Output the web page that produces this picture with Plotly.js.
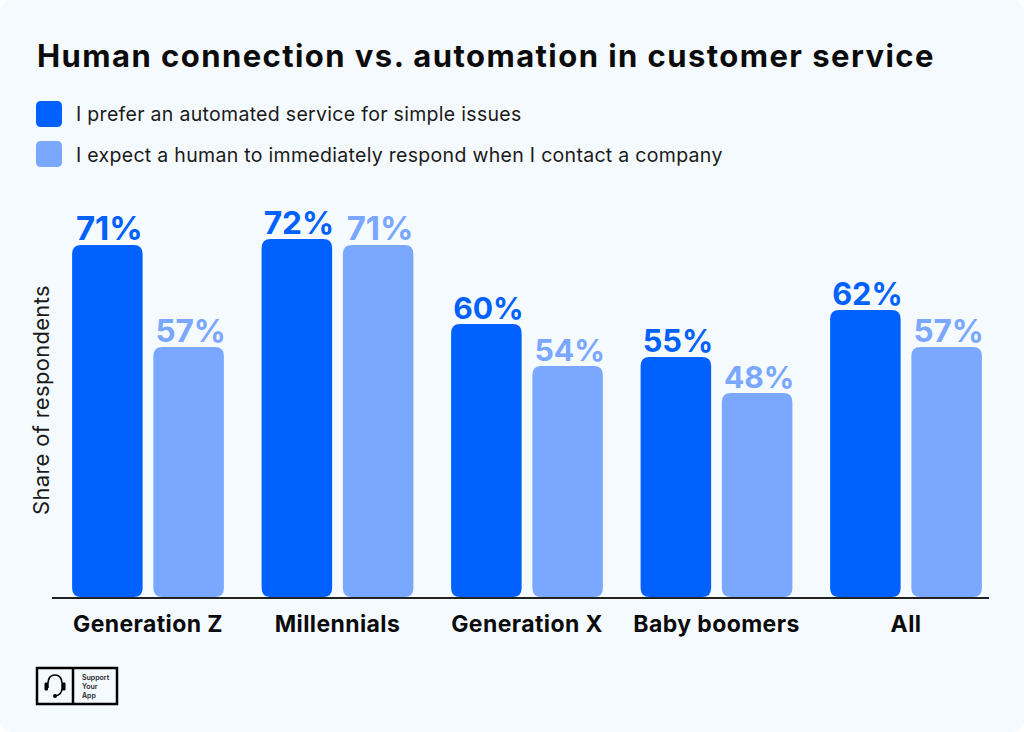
<!DOCTYPE html>
<html><head><meta charset="utf-8">
<script src="https://cdn.plot.ly/plotly-3.0.1.min.js"></script>
<style>html,body{margin:0;padding:0;background:#fff}#c{width:1024px;height:732px;border-radius:12px;overflow:hidden}
.xtick text{letter-spacing:.4px}</style>
</head><body><div id="c"></div>
<script>
const categories = ['Generation Z','Millennials','Generation X','Baby boomers','All'];
const automatedLabels = [71,72,60,55,62];
const humanLabels = [57,71,54,48,57];
// Drawn bar heights (the source's bars are not to scale with their labels)
const automatedHeights = [352,358,273,240,287];
const humanHeights = [250,352,231,204,250];
const seriesNames = ['I prefer an automated service for simple issues','I expect a human to immediately respond when I contact a company'];
const titleText = 'Human connection vs. automation in customer service';
const yTitle = 'Share of respondents';
const logoWords = 'Support<br>Your<br>App';

const W=1024,H=732,L=52,R=35,T=197,B=135;
const PW=W-L-R,PH=H-T-B;
const px=x=>(x-L)/PW, py=y=>1-(y-T)/PH;
const BLUE='#0061ff',LIGHT='#7aa7ff',BG='#f5faff',INK='#0b0b0b';
const FONT='Inter, "Open Sans", sans-serif';
const pct=a=>a.map(v=>v+'%');
function rr(x0,y0,x1,y1,r){
  const X=v=>px(v),Y=v=>py(v);
  return `M${X(x0+r)},${Y(y0)} L${X(x1-r)},${Y(y0)} Q${X(x1)},${Y(y0)} ${X(x1)},${Y(y0+r)} L${X(x1)},${Y(y1-r)} Q${X(x1)},${Y(y1)} ${X(x1-r)},${Y(y1)} L${X(x0+r)},${Y(y1)} Q${X(x0)},${Y(y1)} ${X(x0)},${Y(y1-r)} L${X(x0)},${Y(y0+r)} Q${X(x0)},${Y(y0)} ${X(x0+r)},${Y(y0)} Z`;
}
const paperShape=o=>Object.assign({xref:'paper',yref:'paper'},o);
const shapes=[
  paperShape({type:'path',path:rr(36,101,62,127,5),fillcolor:BLUE,line:{width:0}}),
  paperShape({type:'path',path:rr(36,141,62,167,5),fillcolor:LIGHT,line:{width:0}}),
  paperShape({type:'rect',x0:px(37),x1:px(117),y0:py(668),y1:py(704),line:{color:'#000',width:2.5},fillcolor:'rgba(0,0,0,0)'}),
  paperShape({type:'line',x0:px(73),x1:px(73),y0:py(668),y1:py(704),line:{color:'#000',width:2.5}}),
  paperShape({type:'path',path:`M${px(48)},${py(688)} Q${px(47)},${py(675)} ${px(55)},${py(675)} Q${px(63)},${py(675)} ${px(62)},${py(688)} Q${px(62)},${py(695)} ${px(55)},${py(696)}`,line:{color:'#000',width:1.6},fillcolor:'rgba(0,0,0,0)'}),
  paperShape({type:'rect',x0:px(45),x1:px(47.5),y0:py(683),y1:py(690),line:{color:'#000',width:1},fillcolor:'#000'}),
  paperShape({type:'rect',x0:px(62.5),x1:px(65),y0:py(683),y1:py(690),line:{color:'#000',width:1},fillcolor:'#000'}),
  paperShape({type:'circle',x0:px(53),x1:px(57),y0:py(694),y1:py(698),line:{width:0},fillcolor:'#000'})
];
const note=(x,y,text,size,color,weight,extra)=>Object.assign({xref:'paper',yref:'paper',x:px(x),y:py(y),text,showarrow:false,xanchor:'left',yanchor:'middle',align:'left',font:{family:FONT,size,color,weight}},extra||{});
const annotations=[
  note(35,55,titleText,31,INK,700),
  note(74,114,seriesNames[0],19.5,'#1a1a1a',400),
  note(74,155,seriesNames[1],19.5,'#1a1a1a',400),
  note(41,400,yTitle,22,'#1a1a1a',400,{textangle:-90,xanchor:'center',yanchor:'middle',align:'center'}),
  note(80,686,logoWords,7,'#222',600,{})
];
const common={type:'bar',x:categories,textposition:'outside',cliponaxis:false,hoverinfo:'skip',marker:{cornerradius:9,line:{width:0}}};
const traces=[
  Object.assign({},common,{name:seriesNames[0],y:automatedHeights,text:pct(automatedLabels),marker:Object.assign({},common.marker,{color:BLUE}),textfont:{family:FONT,size:33,color:BLUE,weight:700}}),
  Object.assign({},common,{name:seriesNames[1],y:humanHeights,text:pct(humanLabels),marker:Object.assign({},common.marker,{color:LIGHT}),textfont:{family:FONT,size:33,color:LIGHT,weight:700}})
];
const layout={
  width:W,height:H,margin:{l:L,r:R,t:T,b:B,pad:0},autosize:false,
  paper_bgcolor:BG,plot_bgcolor:BG,showlegend:false,
  barmode:'group',bargap:0.1425,bargroupgap:0.132,
  xaxis:{type:'category',range:[-0.5066,4.438],showgrid:false,zeroline:false,showline:true,linecolor:'#222',linewidth:1.5,ticks:'',tickfont:{family:FONT,size:23,color:INK,weight:700},ticklabelstandoff:6,automargin:false,fixedrange:true},
  yaxis:{range:[0,400],visible:false,fixedrange:true},
  shapes,annotations,
  uniformtext:{mode:false}
};
Plotly.newPlot('c',traces,layout,{displayModeBar:false,staticPlot:true}).then(gd=>{
  // Round the lower corners too, using each bar's own drawn box
  gd.querySelectorAll('.barlayer .point path').forEach(p=>{
    const b=p.getBBox(),r=9,x0=b.x,x1=b.x+b.width,y0=b.y,y1=b.y+b.height;
    p.setAttribute('d',`M${x0},${y0+r}Q${x0},${y0} ${x0+r},${y0}L${x1-r},${y0}Q${x1},${y0} ${x1},${y0+r}L${x1},${y1-r}Q${x1},${y1} ${x1-r},${y1}L${x0+r},${y1}Q${x0},${y1} ${x0},${y1-r}Z`);
  });
  // The value labels sit tighter to the bars than the library's default gap
  gd.querySelectorAll('.barlayer text').forEach(t=>{
    t.setAttribute('transform','translate(2,5.5) '+(t.getAttribute('transform')||''));
  });
  const notes=gd.querySelectorAll('.annotation-text');
  const spacing=['1.44px','.3px','.3px','.3px'];
  spacing.forEach((s,i)=>{ if(notes[i]) notes[i].style.letterSpacing=s; });
});
</script></body></html>
